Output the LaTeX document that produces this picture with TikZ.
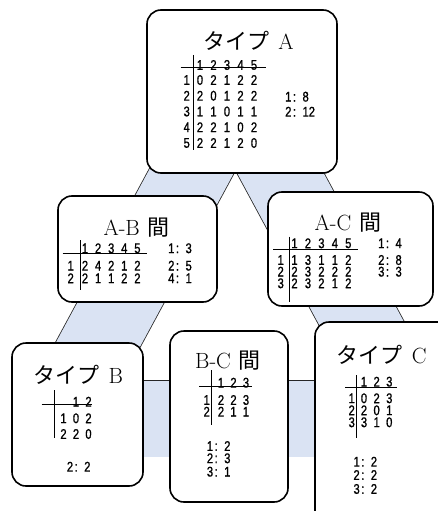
\documentclass[tikz,border=0pt]{standalone}
\usepackage{fontspec}
\usepackage{tikz}
\usetikzlibrary{calc}
\newfontfamily\jpfont{Noto Sans CJK JP}
\newfontfamily\digfont[FakeStretch=0.8,FakeBold=1]{Liberation Sans}
\definecolor{bandblue}{RGB}{218,227,243}
\newcommand{\tally}[2]{#1\hspace{1.5pt}:\hspace{6.5pt}#2}

\begin{document}
\begin{tikzpicture}[x=1pt,y=-1pt]
	\tikzset{
		box/.style={draw, line width=1.6pt, rounded corners=14pt, fill=white, inner sep=0pt},
		band/.style={draw=black!85, line width=0.8pt, double=bandblue, double distance=76pt},
		title/.style={anchor=base, inner sep=0pt, font=\fontsize{22}{22}\selectfont},
		dig/.style={inner sep=0pt, font=\digfont\fontsize{14}{14}\selectfont},
		cnt/.style={dig, anchor=west},
		rule/.style={line width=0.8pt}
	}
	\useasboundingbox (0,0) rectangle (438,511);
	\clip (0,0) rectangle (438,511);
	
	\coordinate (tipA) at (235.5,90);
	\coordinate (tipB) at (58,418.5);
	\coordinate (tipC) at (413,418.5);
	
	\draw[band] (tipA) -- (tipB);
	\draw[band] (tipA) -- (tipC);
	\draw[band] (tipB) -- (tipC);
	
	\node[box, minimum width=190, minimum height=163] (A) at (242,91.5) {};
	\node[box, minimum width=159, minimum height=106] (AB) at (137.5,249) {};
	\node[box, minimum width=165, minimum height=114] (AC) at (350.5,249) {};
	\node[box, minimum width=131, minimum height=143] (B) at (77.5,414.5) {};
	\node[box, minimum width=118, minimum height=171] (BC) at (229,416.5) {};
	\node[box, minimum width=155, minimum height=218] (C) at (392.5,431) {};
	
	% titles
	\node[title] (A-t) at (248.5,50) {{\jpfont タイプ}\hspace{9pt}A};
	\node[title] (AB-t) at (136.7,235) {A-B\hspace{8pt}{\jpfont 間}};
	\node[title] (AC-t) at (348,230) {A-C\hspace{8pt}{\jpfont 間}};
	\node[title] (B-t) at (78.3,383.3) {{\jpfont タイプ}\hspace{9pt}B};
	\node[title] (BC-t) at (228,368.3) {B-C\hspace{8pt}{\jpfont 間}};
	\node[title] (C-t) at (381.7,363.3) {{\jpfont タイプ}\hspace{9pt}C};
	
	% type A
	\draw[rule] (193.3,55) -- (193.3,150);
	\draw[rule] (180.7,67.7) -- (266,67.7);
	\foreach \c in {1,...,5}
		\node[dig] (A-h\c) at ({200+13.5*(\c-1)},65) {\c};
	\foreach \row [count=\r] in {{0,2,1,2,2},{2,0,1,2,2},{1,1,0,1,1},{2,2,1,0,2},{2,2,1,2,0}} {
		\node[dig] (A-l\r) at (186.7,{80+15.75*(\r-1)}) {\r};
		\foreach \v [count=\c] in \row
			\node[dig] (A-\r-\c) at ({200+13.5*(\c-1)},{80+15.75*(\r-1)}) {\v};
	}
	\node[cnt] (A-n1) at (285,96.7) {\tally{1}{8}};
	\node[cnt] (A-n2) at (285,111.7) {\tally{2}{12}};
	
	% A-B
	\draw[rule] (80,240) -- (80,290);
	\draw[rule] (62.7,253.3) -- (147,253.3);
	\foreach \c in {1,...,5}
		\node[dig] (AB-h\c) at ({85+13.1*(\c-1)},248.3) {\c};
	\foreach \row [count=\r] in {{2,4,2,1,2},{2,1,1,2,2}} {
		\node[dig] (AB-l\r) at (70.7,{265.7+12.6*(\r-1)}) {\r};
		\foreach \v [count=\c] in \row
			\node[dig] (AB-\r-\c) at ({85+13.1*(\c-1)},{265.7+12.6*(\r-1)}) {\v};
	}
	\node[cnt] (AB-n1) at (168,248.3) {\tally{1}{3}};
	\node[cnt] (AB-n2) at (168,265.7) {\tally{2}{5}};
	\node[cnt] (AB-n4) at (168,278.3) {\tally{4}{1}};
	
	% A-C
	\draw[rule] (289.3,236.7) -- (289.3,301.7);
	\draw[rule] (273.3,249) -- (358,249);
	\foreach \c in {1,...,5}
		\node[dig] (AC-h\c) at ({294.5+13.45*(\c-1)},243.3) {\c};
	\foreach \row [count=\r] in {{1,3,1,1,2},{2,3,2,2,2},{2,3,2,1,2}} {
		\node[dig] (AC-l\r) at (280.7,{260+11.65*(\r-1)}) {\r};
		\foreach \v [count=\c] in \row
			\node[dig] (AC-\r-\c) at ({294.5+13.45*(\c-1)},{260+11.65*(\r-1)}) {\v};
	}
	\node[cnt] (AC-n1) at (378,243.3) {\tally{1}{4}};
	\node[cnt] (AC-n2) at (378,260) {\tally{2}{8}};
	\node[cnt] (AC-n3) at (378,271.7) {\tally{3}{3}};
	
	% type B
	\draw[rule] (54.3,390) -- (54.3,438);
	\draw[rule] (41.7,404.3) -- (91.7,404.3);
	\foreach \c in {1,2}
		\node[dig] (B-h\c) at ({76+12.5*(\c-1)},401.7) {\c};
	\foreach \row [count=\r] in {{1,0,2},{2,2,0}}
		\foreach \v [count=\c] in \row
			\node[dig] (B-\r-\c) at ({63.5+12.5*(\c-1)},{418.3+15.7*(\r-1)}) {\v};
	\node[cnt] (B-n2) at (66.7,466.7) {\tally{2}{2}};
	
	% B-C
	\draw[rule] (211.7,370) -- (211.7,425);
	\draw[rule] (199.3,386.7) -- (251.7,386.7);
	\foreach \c in {1,2,3}
		\node[dig] (BC-h\c) at ({221+12.5*(\c-1)},382.7) {\c};
	\foreach \row [count=\r] in {{2,2,3},{2,1,1}} {
		\node[dig] (BC-l\r) at (206.7,{400+11.7*(\r-1)}) {\r};
		\foreach \v [count=\c] in \row
			\node[dig] (BC-\r-\c) at ({221+12.5*(\c-1)},{400+11.7*(\r-1)}) {\v};
	}
	\node[cnt] (BC-n1) at (206.7,446) {\tally{1}{2}};
	\node[cnt] (BC-n2) at (206.7,458.3) {\tally{2}{3}};
	\node[cnt] (BC-n3) at (206.7,471.7) {\tally{3}{1}};
	
	% type C
	\draw[rule] (356.7,375) -- (356.7,438.3);
	\draw[rule] (345,387.7) -- (396.7,387.7);
	\foreach \c in {1,2,3}
		\node[dig] (C-h\c) at ({364+12.65*(\c-1)},381.7) {\c};
	\foreach \row [count=\r] in {{0,2,3},{2,0,1},{3,1,0}} {
		\node[dig] (C-l\r) at (351.7,{398.3+12*(\r-1)}) {\r};
		\foreach \v [count=\c] in \row
			\node[dig] (C-\r-\c) at ({364+12.65*(\c-1)},{398.3+12*(\r-1)}) {\v};
	}
	\node[cnt] (C-n1) at (353.3,461.7) {\tally{1}{2}};
	\node[cnt] (C-n2) at (353.3,475) {\tally{2}{2}};
	\node[cnt] (C-n3) at (353.3,489) {\tally{3}{2}};
	
\end{tikzpicture}
\end{document}
